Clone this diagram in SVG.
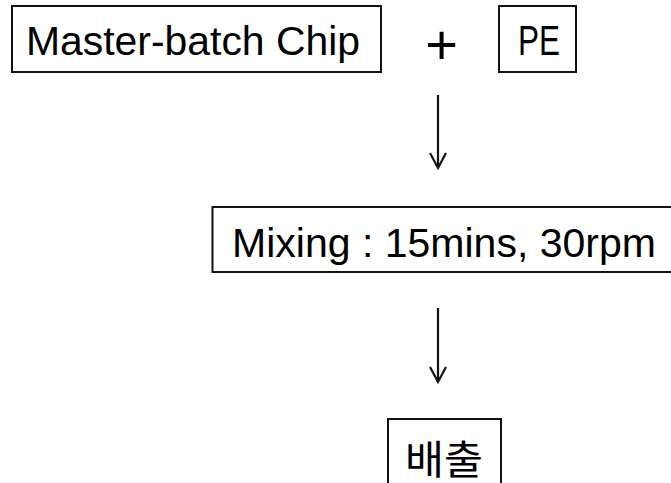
<svg xmlns="http://www.w3.org/2000/svg" width="671" height="483" viewBox="0 0 671 483">
<style>
.box{fill:#fff;stroke:#111;stroke-width:2}
.t{font-family:"Liberation Sans",Arial,sans-serif;fill:#000}
.k{font-family:"Noto Sans CJK KR","Liberation Sans",sans-serif;fill:#000}
.c{stroke:#111;stroke-width:2.2;fill:none}
</style>
<defs>
<marker id="ah" markerWidth="20" markerHeight="20" refX="17" refY="10" orient="auto" markerUnits="userSpaceOnUse" viewBox="0 0 20 20">
<path d="M2,2 L17,10 L2,18" fill="none" stroke="#111" stroke-width="2.2"/>
</marker>
</defs>
<rect width="671" height="483" fill="#fff"/>
<g id="node-masterbatch">
<rect class="box" x="12" y="6" width="369" height="66"/>
<text class="t" x="26" y="55" font-size="40" textLength="334" lengthAdjust="spacingAndGlyphs">Master-batch Chip</text>
</g>
<g id="node-plus">
<text class="t" x="441.5" y="64" font-size="56" text-anchor="middle">+</text>
</g>
<g id="node-pe">
<rect class="box" x="499" y="6" width="77" height="66"/>
<text class="t" x="518" y="55" font-size="42" textLength="42" lengthAdjust="spacingAndGlyphs">PE</text>
</g>
<g id="node-mixing">
<rect class="box" x="212.5" y="207" width="470" height="65"/>
<text class="t" x="232" y="257" font-size="40" textLength="424" lengthAdjust="spacingAndGlyphs">Mixing : 15mins, 30rpm</text>
</g>
<g id="node-output">
<rect class="box" x="388" y="419" width="113" height="80"/>
<text class="k" x="405" y="474" font-size="40" textLength="78" lengthAdjust="spacingAndGlyphs">배출</text>
</g>
<g id="connectors">
<line class="c" x1="438" y1="95" x2="438" y2="168" marker-end="url(#ah)"/>
<line class="c" x1="438" y1="308" x2="438" y2="382" marker-end="url(#ah)"/>
</g>
</svg>
